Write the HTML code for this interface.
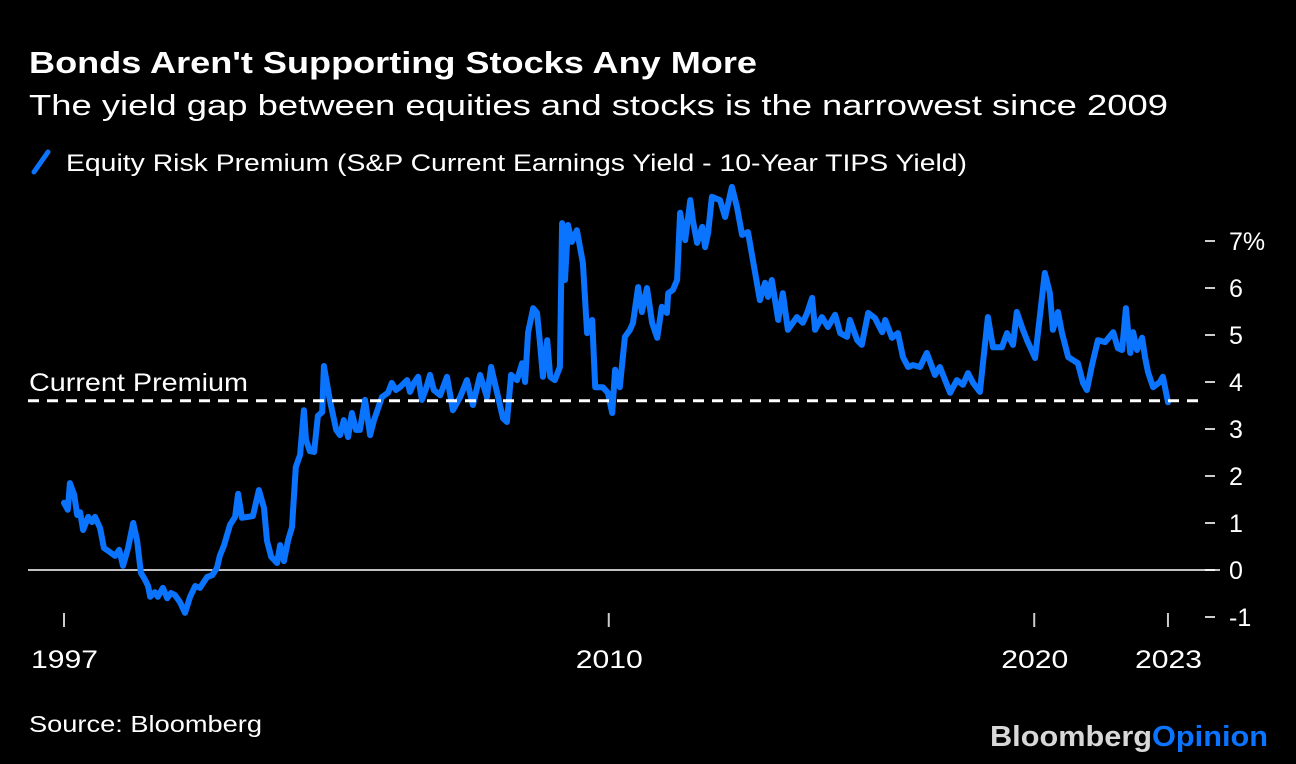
<!DOCTYPE html>
<html><head><meta charset="utf-8"><style>
html,body{margin:0;padding:0;background:#000;}
svg{display:block;font-family:"Liberation Sans",Arial,sans-serif;}
</style></head><body>
<svg id="chart" width="1296" height="764" viewBox="0 0 1296 764">
<rect width="1296" height="764" fill="#000"/>
<text x="29" y="73" fill="#fff" font-size="31" font-weight="bold" textLength="728" lengthAdjust="spacingAndGlyphs">Bonds Aren't Supporting Stocks Any More</text>
<text x="29" y="115" fill="#fff" font-size="29" textLength="1139" lengthAdjust="spacingAndGlyphs">The yield gap between equities and stocks is the narrowest since 2009</text>
<line x1="34" y1="172" x2="48" y2="152" stroke="#0a74ff" stroke-width="5" stroke-linecap="round"/>
<text x="66" y="171" fill="#fff" font-size="24" textLength="901" lengthAdjust="spacingAndGlyphs">Equity Risk Premium (S&amp;P Current Earnings Yield - 10-Year TIPS Yield)</text>
<g id="yaxis"></g>
<g id="xaxis"></g>
<g id="plot"></g>
<text x="29" y="732" fill="#fff" font-size="23" textLength="233" lengthAdjust="spacingAndGlyphs">Source: Bloomberg</text>
<text x="990" y="746" font-size="29" font-weight="bold" textLength="278" lengthAdjust="spacingAndGlyphs"><tspan fill="#d8d8d8">Bloomberg</tspan><tspan fill="#0a74ff">Opinion</tspan></text>
</svg>
<script>
const years=[1997.00,1997.09,1997.14,1997.24,1997.31,1997.38,1997.45,1997.57,1997.66,1997.73,1997.85,1997.94,1998.08,1998.20,1998.30,1998.39,1998.51,1998.63,1998.72,1998.81,1998.91,1998.98,1999.03,1999.14,1999.21,1999.33,1999.43,1999.52,1999.61,1999.73,1999.85,1999.97,2000.09,2000.20,2000.37,2000.49,2000.60,2000.67,2000.77,2000.91,2001.03,2001.10,2001.19,2001.33,2001.45,2001.59,2001.71,2001.78,2001.88,2002.02,2002.09,2002.18,2002.28,2002.37,2002.46,2002.56,2002.65,2002.70,2002.79,2002.89,2002.98,2003.08,2003.12,2003.26,2003.41,2003.50,2003.59,2003.69,2003.78,2003.88,2003.97,2004.09,2004.21,2004.30,2004.40,2004.49,2004.63,2004.72,2004.82,2004.91,2005.08,2005.15,2005.24,2005.34,2005.43,2005.53,2005.62,2005.71,2005.86,
2006.02,2006.16,2006.33,2006.49,2006.63,2006.80,2006.96,2007.06,2007.20,2007.34,2007.43,2007.53,2007.67,2007.79,2007.86,2007.93,2008.05,2008.14,2008.21,2008.28,2008.38,2008.45,2008.56,2008.68,2008.73,2008.80,2008.87,2008.96,2009.08,2009.22,2009.32,2009.44,2009.51,2009.69,2009.81,2009.91,2009.98,2010.09,2010.21,2010.33,2010.40,2010.52,2010.61,2010.73,2010.85,2010.97,2011.08,2011.20,2011.23,2011.34,2011.44,2011.51,2011.63,2011.75,2011.81,2011.91,2012.03,2012.10,2012.17,2012.26,2012.45,2012.57,2012.73,2012.85,2012.97,2013.11,2013.39,2013.51,2013.58,2013.67,2013.82,2013.93,2014.05,2014.26,2014.40,2014.50,2014.62,2014.69,2014.85,2014.99,2015.16,2015.28,2015.44,2015.51,2015.68,2015.79,2015.94,2016.10,2016.27,2016.34,2016.50,2016.64,2016.76,2016.88,2017.00,2017.16,2017.32,2017.51,2017.63,2017.87,2018.03,2018.17,2018.29,2018.41,2018.57,2018.76,2018.88,2019.09,2019.21,2019.35,2019.44,2019.56,2019.68,2019.87,2020.10,2020.22,2020.29,2020.41,2020.50,2020.65,2020.88,2021.00,2021.09,2021.21,2021.35,2021.52,2021.71,2021.82,2021.92,2022.01,2022.11,2022.18,2022.27,2022.39,2022.46,2022.53,2022.65,2022.81,2022.88,2023.00];
const premium=[1.43,1.28,1.85,1.60,1.17,1.23,0.85,1.13,1.02,1.13,0.89,0.47,0.38,0.30,0.43,0.09,0.47,1.00,0.64,-0.06,-0.21,-0.34,-0.57,-0.47,-0.57,-0.38,-0.60,-0.49,-0.53,-0.68,-0.91,-0.57,-0.34,-0.38,-0.15,-0.11,0.04,0.30,0.53,0.96,1.13,1.62,1.11,1.13,1.15,1.70,1.32,0.62,0.28,0.15,0.53,0.19,0.64,0.91,2.19,2.45,3.40,2.77,2.53,2.51,3.28,3.36,4.34,3.62,2.98,2.87,3.19,2.83,3.34,2.98,2.98,3.62,2.87,3.19,3.45,3.68,3.77,3.98,3.83,3.89,4.04,3.79,3.98,4.11,3.62,3.87,4.15,3.83,3.72,
4.11,3.40,3.68,4.04,3.51,4.15,3.68,4.32,3.77,3.23,3.15,4.15,4.04,4.40,4.00,5.06,5.57,5.47,4.83,4.11,4.89,4.11,4.04,4.32,7.38,6.17,7.34,6.98,7.23,6.53,5.04,5.32,3.89,3.89,3.77,3.34,4.26,3.89,4.96,5.11,5.26,6.02,5.49,6.00,5.26,4.94,5.60,5.47,5.89,5.96,6.17,7.60,7.02,7.87,7.45,6.96,7.30,6.87,7.17,7.94,7.87,7.51,8.15,7.72,7.13,7.19,5.74,6.11,5.81,6.17,5.32,5.89,5.11,5.38,5.26,5.47,5.79,5.11,5.38,5.17,5.43,5.04,4.96,5.32,4.89,4.79,5.47,5.36,5.06,5.32,4.94,5.04,4.53,4.32,4.36,4.32,4.62,4.15,4.32,3.77,4.04,3.94,4.19,3.98,3.79,5.38,4.74,4.74,5.04,4.79,5.49,5.17,4.89,4.51,6.32,5.89,5.11,5.49,5.06,4.53,4.40,3.98,3.83,4.36,4.89,4.85,5.06,4.72,4.68,5.57,4.62,5.06,4.68,4.94,4.53,4.21,3.89,4.00,4.11,3.57];
const yTicks=[7,6,5,4,3,2,1,0,-1];
const yTickLabels=["7%","6","5","4","3","2","1","0","-1"];
const xTicks=[1997.0,2009.83,2019.85,2023.0];
const xTickLabels=["1997","2010","2020","2023"];
const currentPremium=[3.6];

const NS="http://www.w3.org/2000/svg";
function xs(v){return 64+(v-1997)*42.46;}
function ys(v){return 570-v*47;}
function mk(tag,attrs,parent){const e=document.createElementNS(NS,tag);for(const k in attrs)e.setAttribute(k,attrs[k]);parent.appendChild(e);return e;}
const yg=document.getElementById('yaxis'),xg=document.getElementById('xaxis'),pg=document.getElementById('plot');
yTicks.forEach((t,i)=>{
  const l=mk('line',{x1:1205,x2:1215,y1:ys(t),y2:ys(t),stroke:'#ccc','stroke-width':2},yg);
  
  
  const tx=mk('text',{x:1229,y:ys(t)+9,fill:'#fff','font-size':25},yg);
  tx.textContent=yTickLabels[i];
  
  
});
const zl=mk('line',{x1:28,x2:1220,y1:ys(0),y2:ys(0),stroke:'#fff','stroke-width':1.5},pg);


xTicks.forEach((t,i)=>{
  const l=mk('line',{x1:xs(t),x2:xs(t),y1:613,y2:627,stroke:'#ccc','stroke-width':2},xg);
  
  
  const tx=mk('text',{x:xs(t)-33,y:668,fill:'#fff','font-size':25,textLength:67,lengthAdjust:'spacingAndGlyphs'},xg);
  tx.textContent=xTickLabels[i];
  
  
});
let d='';
years.forEach((yr,i)=>{d+=(i?'L':'M')+xs(yr).toFixed(1)+' '+ys(premium[i]).toFixed(1);});
const path=mk('path',{d:d,fill:'none',stroke:'#0a74ff','stroke-width':6,'stroke-linejoin':'round','stroke-linecap':'round'},pg);


const dl=mk('line',{x1:28,x2:1205,y1:ys(currentPremium[0]),y2:ys(currentPremium[0]),stroke:'#fff','stroke-width':3,'stroke-dasharray':'11 8'},pg);


const cl=mk('text',{x:29,y:ys(currentPremium[0])-10,fill:'#fff','font-size':25,textLength:219,lengthAdjust:'spacingAndGlyphs'},pg);
cl.textContent='Current Premium';


</script>
</body></html>
